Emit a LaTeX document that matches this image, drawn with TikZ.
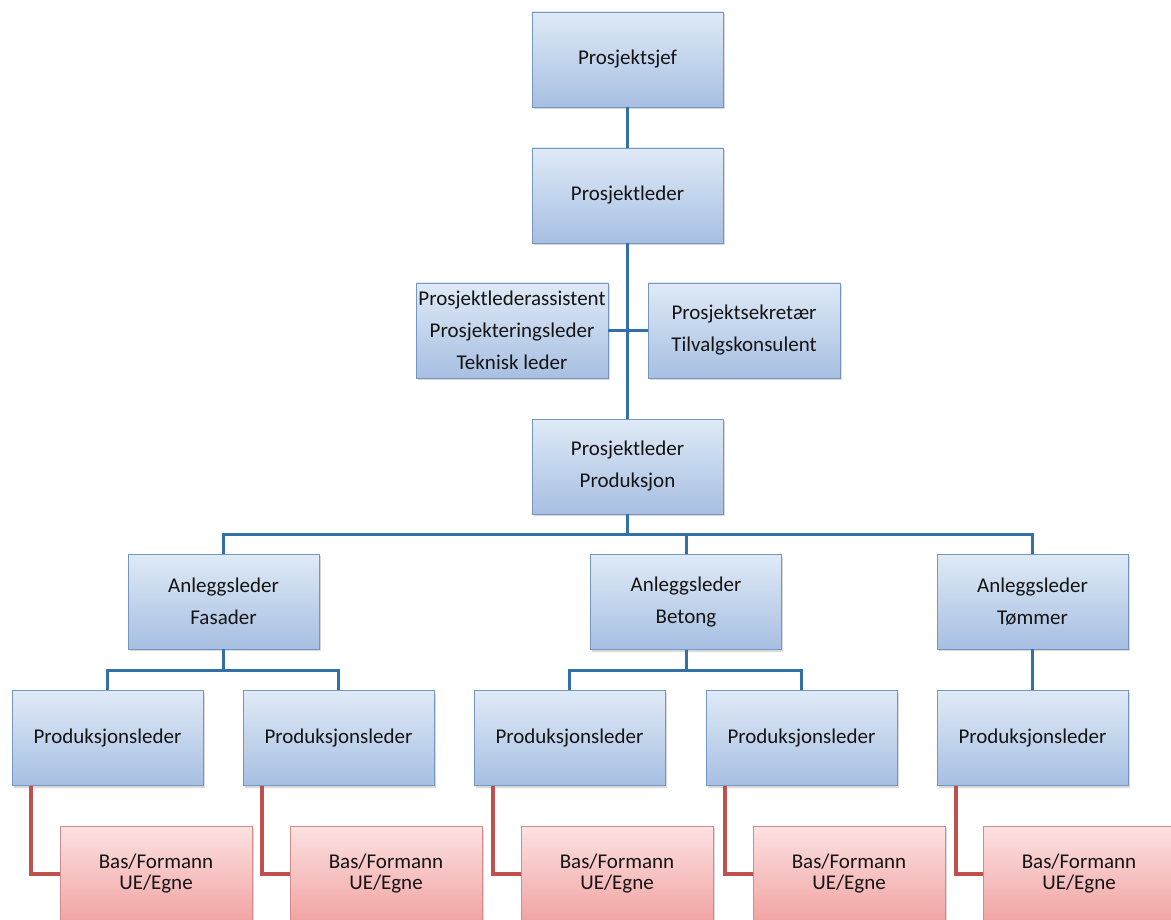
\documentclass[tikz,border=0pt]{standalone}
\usepackage{fontspec}
\setmainfont{Carlito}
\usetikzlibrary{shadows}
\definecolor{boxtop}{HTML}{DFEAF6}
\definecolor{boxbot}{HTML}{A7BFE2}
\definecolor{boxline}{HTML}{7396C2}
\definecolor{redtop}{HTML}{FCE2E2}
\definecolor{redbot}{HTML}{F2A3A3}
\definecolor{redline}{HTML}{D48A88}
\definecolor{linkblue}{HTML}{3470A8}
\definecolor{linkred}{HTML}{C0504D}
\definecolor{ink}{HTML}{141414}
\tikzset{
  orgbox/.style={rectangle, minimum width=191pt, minimum height=95pt,
    inner sep=0pt, draw=boxline, line width=0.9pt,
    top color=boxtop, bottom color=boxbot, text=ink, align=center,
    font=\fontsize{21}{32}\selectfont,
    drop shadow={shadow xshift=1.5pt, shadow yshift=-2pt, opacity=0.25, fill=black!60}},
  crewbox/.style={orgbox, draw=redline, top color=redtop, bottom color=redbot,
    font=\fontsize{21}{21.5}\selectfont},
  bluelink/.style={draw=linkblue, line width=3pt},
  redlink/.style={draw=linkred, line width=4pt, line join=miter}
}
\begin{document}
\begin{tikzpicture}[x=1pt, y=-1pt]
\useasboundingbox (0,0) rectangle (1171,920);
\begin{scope}
\clip (0,0) rectangle (1171,920);

% management chain
\node[orgbox] (sjef) at (627.5,59.5) {Prosjektsjef};
\node[orgbox] (leder) at (627.5,195.5) {Prosjektleder};
\node[orgbox, minimum width=192pt] (ass) at (512,330.5) {Prosjektlederassistent\\Prosjekteringsleder\\Teknisk leder};
\node[orgbox, minimum width=192pt] (sek) at (744,330.5) {Prosjektsekretær\\Tilvalgskonsulent};
\node[orgbox] (prod) at (627.5,466.5) {Prosjektleder\\Produksjon};

% site managers
\node[orgbox] (fas) at (223.5,601.5) {Anleggsleder\\Fasader};
\node[orgbox] (bet) at (686,602) {Anleggsleder\\Betong};
\node[orgbox] (tom) at (1032.5,601.5) {Anleggsleder\\Tømmer};

% production managers
\node[orgbox] (p1) at (107.5,738) {Produksjonsleder};
\node[orgbox] (p2) at (338.5,738) {Produksjonsleder};
\node[orgbox] (p3) at (569.5,738) {Produksjonsleder};
\node[orgbox] (p4) at (801.5,738) {Produksjonsleder};
\node[orgbox] (p5) at (1032.5,738) {Produksjonsleder};

% foremen
\node[crewbox, minimum width=192pt] (b1) at (156,873.5) {Bas/Formann\\UE/Egne};
\node[crewbox, minimum width=192pt] (b2) at (386,873.5) {Bas/Formann\\UE/Egne};
\node[crewbox, minimum width=192pt] (b3) at (617,873.5) {Bas/Formann\\UE/Egne};
\node[crewbox, minimum width=192pt] (b4) at (849,873.5) {Bas/Formann\\UE/Egne};
\node[crewbox, minimum width=192pt] (b5) at (1079,873.5) {Bas/Formann\\UE/Egne};

% junction points of the connector buses
\coordinate (bus) at (627.5,534);
\coordinate (fbus) at (223.5,670);
\coordinate (bbus) at (686,670);

% blue connectors
\draw[bluelink] (sjef.south) -- (leder.north);
\draw[bluelink] (leder.south) -- (prod.north);
\draw[bluelink] (ass.east) -- (sek.west);
\draw[bluelink] (prod.south) -- (bus);
\draw[bluelink] (fas.north) -- (fas.north |- bus) -- (tom.north |- bus) -- (tom.north);
\draw[bluelink] (bet.north) -- (bet.north |- bus);
\draw[bluelink] (fas.south) -- (fbus);
\draw[bluelink] (p1.north) -- (p1.north |- fbus) -- (p2.north |- fbus) -- (p2.north);
\draw[bluelink] (bet.south) -- (bbus);
\draw[bluelink] (p3.north) -- (p3.north |- bbus) -- (p4.north |- bbus) -- (p4.north);
\draw[bluelink] (tom.south) -- (p5.north);

% red connectors
\draw[redlink] ([xshift=19pt]p1.south west) |- (b1.west);
\draw[redlink] ([xshift=19pt]p2.south west) |- (b2.west);
\draw[redlink] ([xshift=19pt]p3.south west) |- (b3.west);
\draw[redlink] ([xshift=19pt]p4.south west) |- (b4.west);
\draw[redlink] ([xshift=19pt]p5.south west) |- (b5.west);
\end{scope}
\end{tikzpicture}
\end{document}
